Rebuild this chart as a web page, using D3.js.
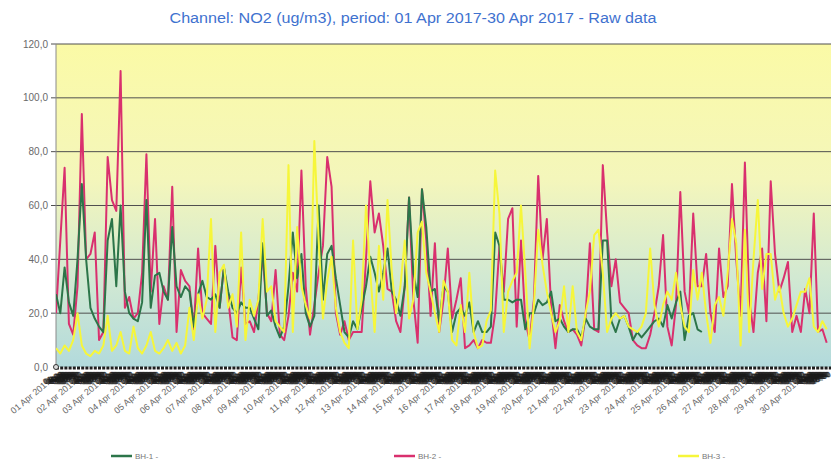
<!DOCTYPE html>
<html>
<head>
<meta charset="utf-8">
<script src="https://cdn.jsdelivr.net/npm/d3@7"></script>
<style>
    body {
        margin: 0;
        background: white;
    }

    #chart text {
        font-family: "Liberation Sans", Arial, sans-serif;
    }

    .grid line {
        stroke: #4f4f4f;
        stroke-width: 1px;
    }
</style>
</head>
<body>
<svg id="chart" width="831" height="461"></svg>

<script>
    // 4-hourly readings, 01 Apr 2017 00:00 onwards
    const stepHours = 4;
    const startDate = new Date(2017, 3, 1);
    const endDate = new Date(2017, 4, 1);

    const bh1 = [
        27, 20, 37, 24, 19, 40, 68, 40, 22, 18, 15, 13, 47, 55, 30, 60, 28, 20, 18, 17, 24, 62, 22, 34, 35, 28, 25, 52, 30, 26, 30, 28, 15, 27, 32, 26, 25, 27, 22, 37, 28, 22, 20, 24, 22,
        22, 18, 14, 46, 19, 21, 15, 11, 15, 30, 50, 33, 42, 20, 15, 19, 60, 25, 42, 45, 33, 23, 13, 11, 17, 14, 22, 30, 41, 35, 28, 35, 44, 28, 25, 19, 30, 63, 35, 26, 66, 52, 28, 29,
        17, 30, 28, 13, 20, 22, 19, 24, 13, 17, 13, 13, 15, 50, 45, 25, 25, 24, 25, 25, 14, 20, 20, 25, 23, 24, 28, 17, 18, 15, 13, 14, 14, 11, 18, 15, 14, 14, 47, 47, 17, 13, 18, 19,
        15, 10, 13, 11, 13, 15, 17, 18, 15, 23, 18, 24, 28, 10, 19, 20, 14, 13,
        null, null, null, null, null, null, null, null, null, null, null, null, null, null, null,
        null, null, null, null, null, null, null, null, null, null, null, null, null, null
    ];

    const bh2 = [
        20, 47, 74, 16, 12, 30, 94, 40, 42, 50, 10, 13, 78, 62, 58, 110, 22, 26, 18, 20, 35, 79, 28, 55, 16, 30, 25, 67, 13, 36, 32, 30, 14, 44, 20, 18, 16, 45, 22, 37, 25, 11, 10, 37, 16,
        17, 13, 25, 42, 20, 17, 36, 12, 10, 19, 35, 28, 73, 30, 12, 23, 35, 45, 78, 67, 20, 12, 17, 10, 13, 13, 13, 40, 69, 50, 57, 45, 29, 28, 17, 13, 30, 63, 25, 9, 66, 47, 19, 46,
        13, 25, 44, 18, 25, 33, 7, 8, 10, 7, 10, 9, 9, 20, 45, 28, 55, 59, 15, 47, 17, 10, 25, 71, 40, 55, 22, 7, 23, 17, 13, 14, 12, 8, 19, 46, 14, 13, 75, 50, 30, 40, 24, 22,
        20, 10, 8, 7, 7, 12, 20, 30, 49, 15, 8, 23, 65, 28, 20, 57, 30, 30, 42, 20, 13, 44, 26, 30, 68, 40, 19, 76, 25, 13, 35, 44, 17, 69, 42, 28, 33, 39, 13, 19, 13, 29, 20, 57, 13, 14, 9
    ];

    const bh3 = [
        7, 5, 8, 6, 10, 20, 8, 5, 4, 6, 5, 8, 19, 6, 8, 13, 6, 5, 15, 7, 5, 8, 13, 6, 5, 7, 10, 6, 9, 5, 8, 22, 10, 27, 18, 25, 55, 13, 35, 38, 22, 27, 15, 50, 10,
        25, 19, 25, 55, 28, 30, 17, 15, 13, 75, 13, 52, 30, 23, 18, 84, 47, 18, 32, 41, 22, 13, 9, 7, 47, 14, 25, 60, 35, 13, 45, 25, 62, 35, 20, 30, 47, 18, 25, 50, 54, 35, 28, 20,
        13, 32, 28, 10, 8, 23, 13, 35, 13, 7, 8, 17, 21, 73, 57, 13, 28, 32, 35, 60, 35, 7, 23, 51, 38, 28, 20, 13, 17, 30, 13, 30, 13, 10, 20, 28, 49, 51, 35, 13, 18, 20, 18, 19,
        15, 14, 13, 15, 20, 44, 23, 15, 23, 28, 25, 35, 23, 15, 13, 36, 25, 35, 20, 9, 23, 26, 19, 35, 55, 46, 8, 51, 13, 40, 62, 29, 42, 42, 25, 30, 20, 15, 18, 23, 28, 28, 33, 15, 13, 17, 14
    ];

    const seriesNames = ["BH-1 -", "BH-2 -", "BH-3 -"];
    const seriesColors = ["#2c7549", "#d9306e", "#f6f63a"];
    const yTicks = [0, 20, 40, 60, 80, 100, 120];
    const dayLabels = d3.range(1, 31).map(function (d) {
        return (d < 10 ? "0" + d : "" + d) + " Apr 2017";
    });

    (function () {
        const svg = d3.select("#chart");
        const plotLeft = 56, plotRight = 831, plotTop = 44, plotBottom = 367;

        const x = d3.scaleTime().domain([startDate, endDate]).range([plotLeft, plotRight]);
        const y = d3.scaleLinear().domain([0, 120]).range([plotBottom, plotTop]);

        // background gradient
        const defs = svg.append("defs");
        const grad = defs.append("linearGradient")
            .attr("id", "bg").attr("x1", 0).attr("y1", 0).attr("x2", 0).attr("y2", 1);
        grad.append("stop").attr("offset", "0%").attr("stop-color", "#fbfaa6");
        grad.append("stop").attr("offset", "42%").attr("stop-color", "#f4f6bb");
        grad.append("stop").attr("offset", "72%").attr("stop-color", "#d2e9d2");
        grad.append("stop").attr("offset", "100%").attr("stop-color", "#b2dadc");

        defs.append("clipPath").attr("id", "clip")
            .append("rect").attr("x", plotLeft).attr("y", plotTop - 2)
            .attr("width", plotRight - plotLeft).attr("height", plotBottom - plotTop + 2);

        svg.append("rect")
            .attr("x", plotLeft).attr("y", plotTop)
            .attr("width", plotRight - plotLeft).attr("height", plotBottom - plotTop)
            .style("fill", "url(#bg)");

        // title
        svg.append("text")
            .attr("x", 413).attr("y", 23)
            .attr("text-anchor", "middle")
            .attr("textLength", 487)
            .attr("lengthAdjust", "spacingAndGlyphs")
            .style("font-size", "14px")
            .style("fill", "#3f72cf")
            .text("Channel: NO2 (ug/m3), period: 01 Apr 2017-30 Apr 2017 - Raw data");

        // y grid + labels
        svg.append("g").attr("class", "grid")
            .selectAll("line")
            .data(yTicks.filter(function (d) { return d > 0; }))
            .enter()
            .append("line")
            .attr("x1", plotLeft - 5).attr("x2", plotRight)
            .attr("y1", function (d) { return y(d); })
            .attr("y2", function (d) { return y(d); });

        svg.append("g")
            .selectAll("text")
            .data(yTicks)
            .enter()
            .append("text")
            .attr("x", plotLeft - 8)
            .attr("y", function (d) { return y(d) + 3.5; })
            .attr("text-anchor", "end")
            .style("font-size", "10px")
            .style("fill", "#6a6a6a")
            .text(function (d) { return d3.format(".1f")(d).replace(".", ","); });

        svg.append("line")
            .attr("x1", plotLeft).attr("x2", plotLeft)
            .attr("y1", plotTop).attr("y2", plotBottom)
            .style("stroke", "#8a8a8a");

        // series lines
        const line = d3.line()
            .defined(function (d) { return d != null; })
            .x(function (d, i) { return x(d3.timeHour.offset(startDate, i * stepHours)); })
            .y(function (d) { return y(d); });

        const plot = svg.append("g").attr("clip-path", "url(#clip)");
        const order = [1, 0, 2];
        const allSeries = [bh1, bh2, bh3];
        order.forEach(function (s) {
            plot.append("path")
                .datum(allSeries[s])
                .attr("d", line)
                .style("fill", "none")
                .style("stroke", seriesColors[s])
                .style("stroke-width", 2)
                .style("stroke-linejoin", "round");
        });

        // x axis: dense hourly marks
        svg.append("line")
            .attr("x1", plotLeft).attr("x2", plotRight)
            .attr("y1", plotBottom + 1).attr("y2", plotBottom + 1)
            .style("stroke", "#1e1e1e")
            .style("stroke-width", 3)
            .style("stroke-dasharray", "3,1.2");

        svg.append("circle")
            .attr("cx", plotLeft).attr("cy", plotBottom)
            .attr("r", 2.5)
            .style("fill", "#ddd")
            .style("stroke", "#333");

        // hour labels overlap into a dark band, as in the original export
        const hours = d3.timeHour.range(startDate, endDate).filter(function (d) {
            return d.getHours() !== 0 && d.getHours() < 20;
        });
        svg.append("g")
            .selectAll("text")
            .data(hours)
            .enter()
            .append("text")
            .attr("transform", function (d) {
                return "translate(" + (x(d) + 6) + "," + (plotBottom + 9) + ") rotate(-25)";
            })
            .attr("text-anchor", "end")
            .style("font-size", "8px")
            .style("font-weight", "bold")
            .style("fill", "#1a1a1a")
            .style("opacity", 0.75)
            .text(function (d) { return d3.timeFormat("%H:00")(d); });

        const days = d3.timeDay.range(startDate, endDate);
        svg.append("g")
            .selectAll("text")
            .data(days)
            .enter()
            .append("text")
            .attr("transform", function (d) {
                return "translate(" + (x(d) - 5) + "," + (plotBottom + 16) + ") rotate(-40)";
            })
            .attr("text-anchor", "end")
            .style("font-size", "9px")
            .style("fill", "#666")
            .text(function (d, i) { return dayLabels[i]; });

        // legend
        const legendX = [111, 394, 678];
        const legend = svg.append("g")
            .selectAll("g")
            .data(seriesNames)
            .enter()
            .append("g")
            .attr("transform", function (d, i) { return "translate(" + legendX[i] + ",456)"; });

        legend.append("line")
            .attr("x1", 0).attr("x2", 21)
            .style("stroke", function (d, i) { return seriesColors[i]; })
            .style("stroke-width", 2.5);

        legend.append("text")
            .attr("x", 24).attr("y", 3)
            .style("font-size", "8px")
            .style("fill", "#777")
            .text(function (d) { return d; });
    })();
</script>
</body>
</html>
